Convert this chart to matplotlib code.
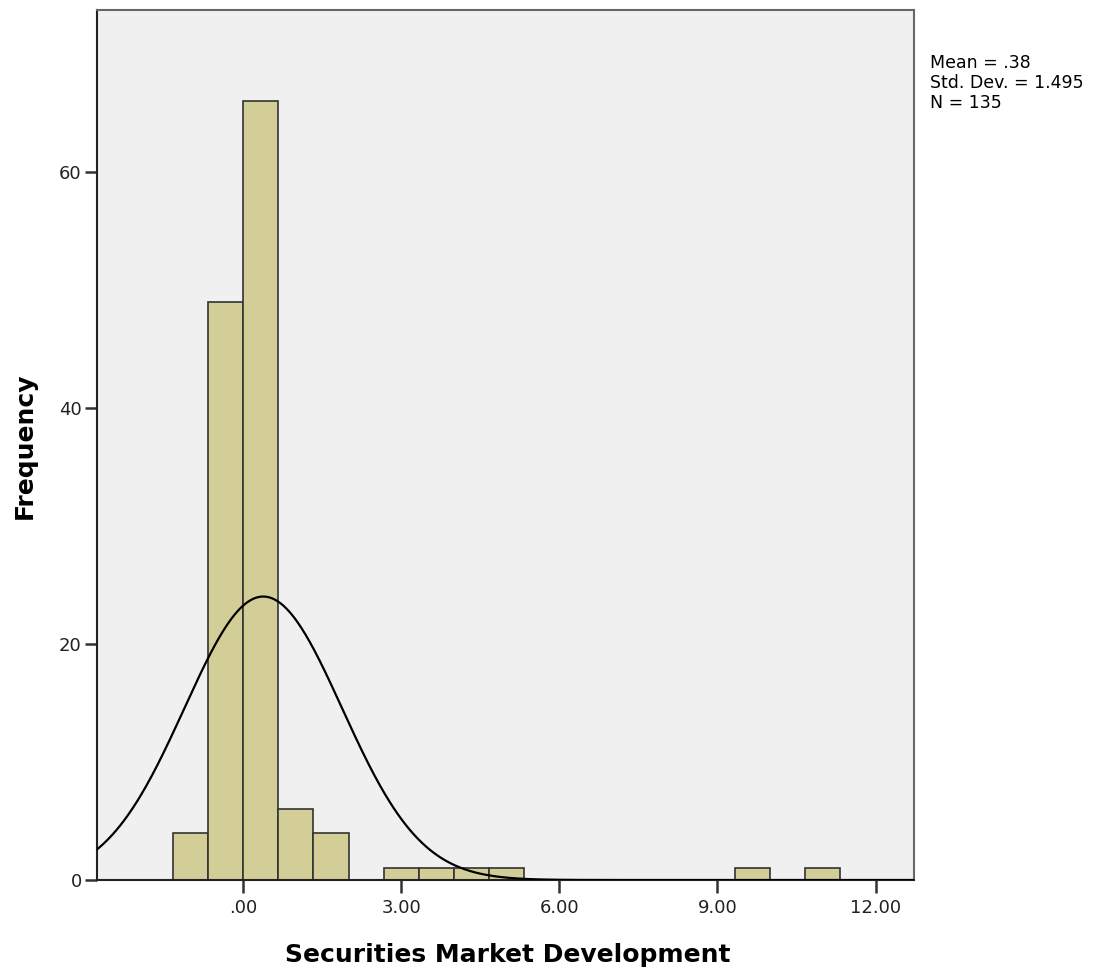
import numpy as np
import matplotlib
matplotlib.use("Agg")
import matplotlib.pyplot as plt

# histogram bins (width 2/3)
bin_left = [-4/3, -2/3, 0, 2/3, 4/3, 8/3, 10/3, 4, 14/3, 28/3, 32/3]
counts = [4, 49, 66, 6, 4, 1, 1, 1, 1, 1, 1]
bin_width = 2/3

mean, sd, n = 0.38, 1.495, 135
xticks = [0, 3, 6, 9, 12]
xticklabels = [".00", "3.00", "6.00", "9.00", "12.00"]
yticks = [0, 20, 40, 60]

fig = plt.figure(figsize=(11.02, 9.75), dpi=100)
ax = fig.add_axes([0.088, 0.0974, 0.7414, 0.8923])
ax.set_facecolor("#f0f0f0")

ax.bar(bin_left, counts, width=bin_width, align="edge",
       color="#d3ce97", edgecolor="#333333", linewidth=1.2, zorder=2)

# normal curve scaled to the histogram
xs = np.linspace(-2.8, 12.8, 600)
ys = n * bin_width / (sd * np.sqrt(2 * np.pi)) * np.exp(-0.5 * ((xs - mean) / sd) ** 2)
ax.plot(xs, ys, color="black", lw=1.6, zorder=3)

ax.set_xlim(-2.775, 12.73)
ax.set_ylim(0, 73.7)
ax.set_xticks(xticks)
ax.set_xticklabels(xticklabels)
ax.set_yticks(yticks)
ax.tick_params(axis="both", direction="out", length=9, width=1.8,
               labelsize=13, colors="#333333", labelcolor="#222222")
ax.tick_params(axis="x", pad=5)
ax.tick_params(axis="y", pad=2)

for s in ["left", "bottom"]:
    ax.spines[s].set_color("#222222")
    ax.spines[s].set_linewidth(1.5)
for s in ["top", "right"]:
    ax.spines[s].set_color("#666666")
    ax.spines[s].set_linewidth(1.5)

fig.text(0.4605, 0.0205, "Securities Market Development", fontsize=18,
         fontweight="bold", ha="center", va="center")
fig.text(0.0227, 0.543, "Frequency", fontsize=18, fontweight="bold",
         rotation=90, ha="center", va="center")

fig.text(0.8435, 0.915, "Mean = .38\nStd. Dev. = 1.495\nN = 135",
         fontsize=12.5, ha="left", va="center", linespacing=1.15)

fig.savefig("out.png", dpi=100)
